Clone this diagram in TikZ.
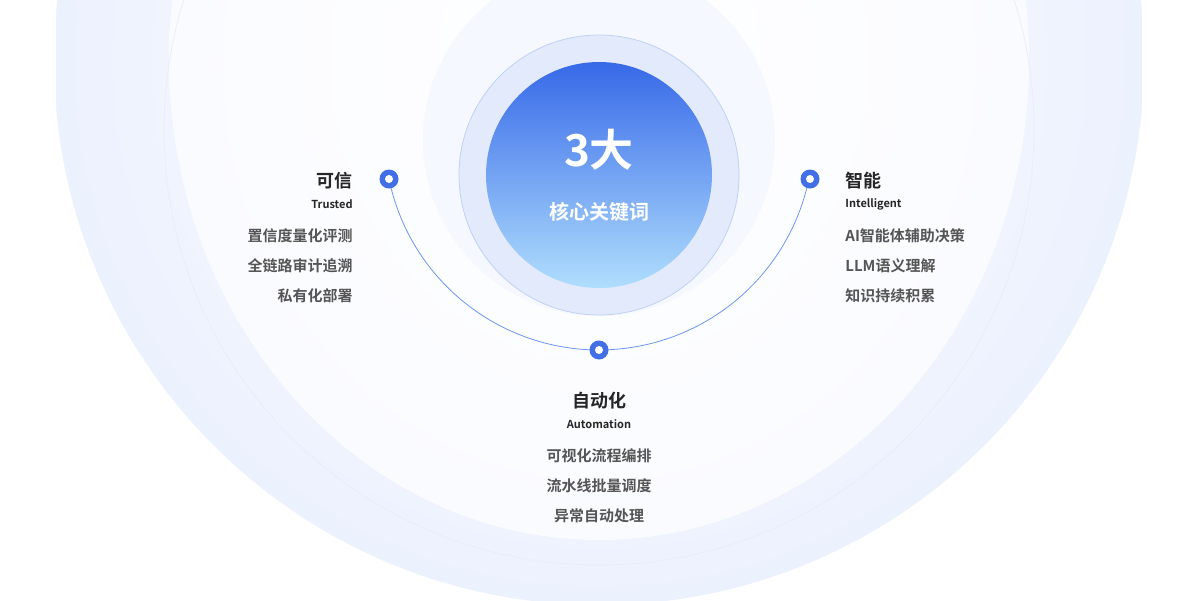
\documentclass[tikz,border=0pt]{standalone}
\usepackage{fontspec}
\setmainfont{Noto Sans CJK SC}[BoldFont={Noto Sans CJK SC Bold}]
\tikzset{every picture/.style={line width=0.75pt}}
\definecolor{ringblue}{RGB}{66,110,230}
\definecolor{txtgray}{RGB}{85,85,85}
\definecolor{arcblue}{RGB}{110,150,240}
\definecolor{glowout}{RGB}{236,241,254}
\definecolor{glowin}{RGB}{250,251,255}
\definecolor{faintline}{RGB}{232,237,250}
\definecolor{haloA}{RGB}{245,248,254}
\definecolor{haloB}{RGB}{226,234,252}
\definecolor{haloBline}{RGB}{190,208,246}
\definecolor{coretop}{RGB}{55,105,232}
\definecolor{corebot}{RGB}{176,222,253}
\tikzset{
  title/.style={font=\bfseries\fontsize{18}{20}\selectfont, text=black!85, inner sep=0pt},
  subtitle/.style={font=\bfseries\fontsize{11}{13}\selectfont, text=black!85, inner sep=0pt},
  item/.style={font=\bfseries\fontsize{15}{17}\selectfont, text=txtgray, inner sep=0pt},
}
\begin{document}
\begin{tikzpicture}[x=1pt,y=1pt,yscale=-1,xscale=1]
		\useasboundingbox (0,0) rectangle (1198,600);
		\begin{scope}
		\clip (0,0) rectangle (1198,600);
		%Shape: big glow
		\shade [inner color=white, outer color=glowout] (599,60) circle (545);
		\fill [white] (0,0) rectangle (56,600) (1142,0) rectangle (1198,600);
		\shade [inner color=white, outer color=glowin] (599,60) ellipse (430 and 480);
		\end{scope}
		%Outer faint arc
		\draw [faintline] (599,130) circle (435);
		%Shape: Circles
		\fill [haloA] (599,140) circle (176);
		\fill [haloB, draw=haloBline] (599,175) circle (140);
		\shade [top color=coretop, bottom color=corebot] (599,175) circle (113);
		%Connector arc
		\draw [arcblue, line width=0.8pt] (389,179) arc [start angle=168.3, end angle=11.7, radius=214.4];
		%Markers
		\foreach \p in {(389,179), (810,179), (599,350)} {
			\fill [ringblue] \p circle (9.5);
			\fill [white] \p circle (4);
		}
		% Text Node
		\node [text=white, font=\bfseries\fontsize{44}{48}\selectfont, inner sep=0pt] (big) at (599,150) {3大};
		\node [text=white, font=\bfseries\fontsize{20}{22}\selectfont, inner sep=0pt] (core) at (599,212) {核心关键词};
		% Trusted
		\node [title, anchor=east] (t0) at (353,181) {可信};
		\node [subtitle, anchor=east] (t1) at (353,204) {Trusted};
		\node [item, anchor=east] (t2) at (353,236) {置信度量化评测};
		\node [item, anchor=east] (t3) at (353,266) {全链路审计追溯};
		\node [item, anchor=east] (t4) at (353,296) {私有化部署};
		% Intelligent
		\node [title, anchor=west] (i0) at (845,181) {智能};
		\node [subtitle, anchor=west] (i1) at (845,204) {Intelligent};
		\node [item, anchor=west] (i2) at (845,236) {AI智能体辅助决策};
		\node [item, anchor=west] (i3) at (845,266) {LLM语义理解};
		\node [item, anchor=west] (i4) at (845,296) {知识持续积累};
		% Automation
		\node [title] (a0) at (599,401) {自动化};
		\node [subtitle] (a1) at (599,424) {Automation};
		\node [item] (a2) at (599,456) {可视化流程编排};
		\node [item] (a3) at (599,486) {流水线批量调度};
		\node [item] (a4) at (599,516) {异常自动处理};
	\end{tikzpicture}
\end{document}
